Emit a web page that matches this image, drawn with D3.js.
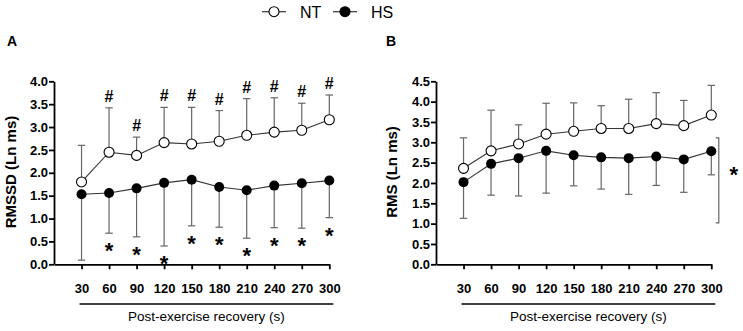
<!DOCTYPE html>
<html>
<head>
	<meta charset="utf-8">
	<title>RMSSD / RMS recovery</title>
	<script src="https://d3js.org/d3.v7.min.js"></script>
	<style>
		body { margin: 0; background: #fff; }
		text { font-family: Arial, 'Liberation Sans', sans-serif; }
	</style>
</head>
<body>
	<div class="chart"></div>

	<script type="text/javascript">
		const width = 743
		const height = 331

		// 时间点 (s)
		const times = [30, 60, 90, 120, 150, 180, 210, 240, 270, 300]

		// A: RMSSD (Ln ms)
		const rmssdNT = [1.80, 2.45, 2.38, 2.66, 2.63, 2.69, 2.82, 2.89, 2.93, 3.16]
		const rmssdNTUpper = [2.60, 3.42, 2.78, 3.43, 3.43, 3.36, 3.62, 3.64, 3.52, 3.70]
		const rmssdHS = [1.53, 1.56, 1.66, 1.78, 1.85, 1.69, 1.62, 1.72, 1.77, 1.83]
		const rmssdHSLower = [0.09, 0.68, 0.60, 0.40, 0.84, 0.81, 0.57, 0.80, 0.79, 1.02]
		const hashTimes = [60, 90, 120, 150, 180, 210, 240, 270, 300]
		const starTimes = [60, 90, 120, 150, 180, 210, 240, 270, 300]

		// B: RMS (Ln ms)
		const rmsNT = [2.36, 2.79, 2.96, 3.20, 3.27, 3.34, 3.34, 3.46, 3.41, 3.67]
		const rmsNTUpper = [3.11, 3.79, 3.43, 3.96, 3.97, 3.90, 4.06, 4.22, 4.03, 4.40]
		const rmsHS = [2.02, 2.47, 2.61, 2.79, 2.68, 2.63, 2.61, 2.65, 2.58, 2.78]
		const rmsHSLower = [1.13, 1.70, 1.68, 1.75, 1.93, 1.85, 1.72, 1.94, 1.77, 2.20]
		const bracketRange = [1.02, 3.11]

		const yTicksA = d3.range(0, 4.01, 0.5)
		const yTicksB = d3.range(0, 4.51, 0.5)

		const svg = d3.select('.chart').append('svg')
			.attr('width', width)
			.attr('height', height)

		const zip = (vals, err) => times.map((t, i) => ({ t, v: vals[i], e: err[i] }))

		const drawPanel = (opt) => {
			const g = svg.append('g')
			const x = d3.scaleLinear([0, 300], [opt.left, opt.left + 275.3])
			const y = d3.scaleLinear([0, opt.yMax], [264.3, 81.3])

			// 坐标轴
			g.append('g')
				.attr('transform', `translate(${opt.left}, 0)`)
				.call(d3.axisLeft(y).tickValues(opt.yTicks).tickFormat(d3.format('.1f')).tickSize(5).tickSizeOuter(0).tickPadding(1))
				.call(a => a.selectAll('text').attr('font-size', 13).attr('font-weight', 'bold').attr('fill', '#000'))
			g.append('g')
				.attr('transform', `translate(0, ${y(0)})`)
				.call(d3.axisBottom(x).tickValues(times).tickSize(5).tickSizeOuter(0).tickPadding(14))
				.call(a => a.selectAll('text').attr('font-size', 13).attr('font-weight', 'bold').attr('fill', '#000'))
			g.selectAll('.domain, .tick line').attr('stroke', '#000').attr('stroke-width', 1.8)

			g.append('line')
				.attr('x1', x(30) - 2).attr('x2', x(300) + 4)
				.attr('y1', 304).attr('y2', 304)
				.attr('stroke', '#000').attr('stroke-width', 1.3)
			g.append('text')
				.attr('x', (x(30) + x(300)) / 2 + 1).attr('y', 321)
				.attr('text-anchor', 'middle').attr('font-size', 13.5)
				.text('Post-exercise recovery (s)')

			g.append('text')
				.attr('transform', `translate(${opt.titleX}, 172) rotate(-90)`)
				.attr('text-anchor', 'middle').attr('font-size', 15).attr('font-weight', 'bold')
				.text(opt.yTitle)
			g.append('text')
				.attr('x', opt.letterX).attr('y', 46)
				.attr('font-size', 14).attr('font-weight', 'bold')
				.text(opt.letter)

			// 误差线
			const errBars = (data) => {
				const eg = g.append('g').attr('stroke', '#666').attr('stroke-width', 1.2)
				eg.selectAll('.v').data(data).join('line')
					.attr('x1', d => x(d.t)).attr('x2', d => x(d.t))
					.attr('y1', d => y(d.v)).attr('y2', d => y(d.e))
				eg.selectAll('.c').data(data).join('line')
					.attr('x1', d => x(d.t) - 3.7).attr('x2', d => x(d.t) + 3.7)
					.attr('y1', d => y(d.e)).attr('y2', d => y(d.e))
			}
			const nt = zip(opt.nt, opt.ntUpper)
			const hs = zip(opt.hs, opt.hsLower)
			errBars(nt)
			errBars(hs)

			const line = d3.line().x(d => x(d.t)).y(d => y(d.v))
			g.append('path').datum(hs).attr('d', line).attr('fill', 'none').attr('stroke', '#333').attr('stroke-width', 1.1)
			g.append('path').datum(nt).attr('d', line).attr('fill', 'none').attr('stroke', '#333').attr('stroke-width', 1.1)

			g.append('g').selectAll('circle').data(hs).join('circle')
				.attr('cx', d => x(d.t)).attr('cy', d => y(d.v)).attr('r', 5)
				.attr('fill', '#000')
			g.append('g').selectAll('circle').data(nt).join('circle')
				.attr('cx', d => x(d.t)).attr('cy', d => y(d.v)).attr('r', 5)
				.attr('fill', '#fff').attr('stroke', '#000').attr('stroke-width', 1.1)

			return { g, x, y, nt, hs }
		}

		// A
		const A = drawPanel({
			left: 54, yMax: 4, yTicks: yTicksA, yTitle: 'RMSSD (Ln ms)', titleX: 16, letter: 'A', letterX: 7,
			nt: rmssdNT, ntUpper: rmssdNTUpper, hs: rmssdHS, hsLower: rmssdHSLower
		})
		A.g.append('g').selectAll('text').data(A.nt.filter(d => hashTimes.includes(d.t))).join('text')
			.attr('x', d => A.x(d.t)).attr('y', d => A.y(d.e) - 6)
			.attr('text-anchor', 'middle').attr('font-size', 16).attr('font-weight', 'bold')
			.text('#')
		A.g.append('g').selectAll('text').data(A.hs.filter(d => starTimes.includes(d.t))).join('text')
			.attr('x', d => A.x(d.t)).attr('y', d => A.y(d.e) + 25)
			.attr('text-anchor', 'middle').attr('font-size', 22).attr('font-weight', 'bold')
			.text('*')

		// B
		const B = drawPanel({
			left: 436, yMax: 4.5, yTicks: yTicksB, yTitle: 'RMS (Ln ms)', titleX: 397, letter: 'B', letterX: 386,
			nt: rmsNT, ntUpper: rmsNTUpper, hs: rmsHS, hsLower: rmsHSLower
		})
		const bx = B.x(300) + 7.5
		B.g.append('path')
			.attr('d', `M${bx - 3},${B.y(bracketRange[1])}H${bx}V${B.y(bracketRange[0])}H${bx - 3}`)
			.attr('fill', 'none').attr('stroke', '#666').attr('stroke-width', 1.2)
		B.g.append('text')
			.attr('x', bx + 15).attr('y', (B.y(bracketRange[0]) + B.y(bracketRange[1])) / 2 + 2)
			.attr('text-anchor', 'middle').attr('font-size', 22).attr('font-weight', 'bold')
			.text('*')

		// 图例
		const legend = svg.append('g').attr('transform', 'translate(0, 11.7)')
		const items = [{ name: 'NT', x: 262, fill: '#fff' }, { name: 'HS', x: 333, fill: '#000' }]
		items.forEach(it => {
			legend.append('line').attr('x1', it.x).attr('x2', it.x + 24).attr('stroke', '#333').attr('stroke-width', 1.2)
			legend.append('circle').attr('cx', it.x + 12).attr('r', 5).attr('fill', it.fill).attr('stroke', '#000').attr('stroke-width', 1.1)
			legend.append('text').attr('x', it.x + 38).attr('y', 6).attr('font-size', 16).text(it.name)
		})
	</script>
</body>
</html>
